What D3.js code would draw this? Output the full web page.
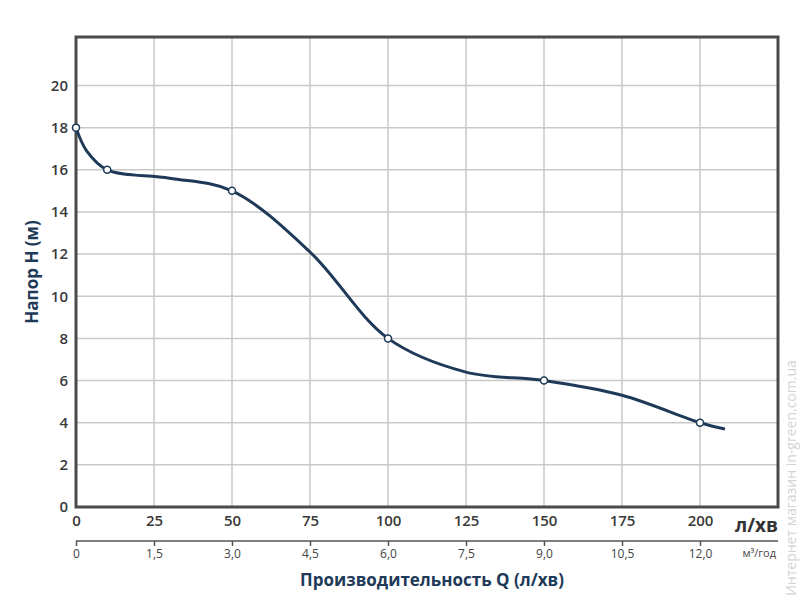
<!DOCTYPE html>
<html>
<head>
<meta charset="utf-8">
<script src="https://cdn.jsdelivr.net/npm/d3@7"></script>
<style>
  body { margin: 0; background: #fff; }
  svg text { font-family: "Open Sans", "Noto Sans", sans-serif; }
</style>
</head>
<body>
<div id="canvas"></div>
<script>
"use strict"

/* Data: flow (l/min) and head (m) */
let pointQ = [0, 10, 50, 100, 150, 200];
let pointH = [18, 16, 15, 8, 6, 4];

// points along the drawn curve
let curveQ = [0, 3.4, 10, 30, 50, 75, 100, 125, 150, 175, 200, 208];
let curveH = [18, 16.9, 16, 15.6, 15, 12.1, 8, 6.4, 6, 5.3, 4, 3.7];

let xTicks = [0, 25, 50, 75, 100, 125, 150, 175, 200];
let m3Ticks = [0, 1.5, 3.0, 4.5, 6.0, 7.5, 9.0, 10.5, 12.0];
let yTicks = [0, 2, 4, 6, 8, 10, 12, 14, 16, 18, 20];

/* Drawing config */
let svgWidth = 800;
let svgHeight = 600;
let plotLeft = 76, plotRight = 778, plotTop = 37, plotBottom = 507;
let navy = "#1e3a58";

let svg = d3.select("#canvas")
    .append("svg")
    .attr("width", svgWidth)
    .attr("height", svgHeight);

let xScale = d3.scaleLinear().domain([0, 225]).range([plotLeft, plotRight]);
let m3Scale = d3.scaleLinear().domain([0, 13.5]).range([plotLeft, plotRight]);
let yScale = d3.scaleLinear().domain([0, 22.3]).range([plotBottom, plotTop]);

/* grid */
svg.append("g")
    .selectAll("line")
    .data(xTicks.slice(1))
    .join("line")
    .attr("x1", d => xScale(d)).attr("x2", d => xScale(d))
    .attr("y1", plotTop).attr("y2", plotBottom)
    .attr("stroke", "#c9c9c9").attr("stroke-width", 1.5);

svg.append("g")
    .selectAll("line")
    .data(yTicks.slice(1))
    .join("line")
    .attr("x1", plotLeft).attr("x2", plotRight)
    .attr("y1", d => yScale(d)).attr("y2", d => yScale(d))
    .attr("stroke", "#c9c9c9").attr("stroke-width", 1.5);

/* frame */
svg.append("rect")
    .attr("x", plotLeft).attr("y", plotTop)
    .attr("width", plotRight - plotLeft).attr("height", plotBottom - plotTop)
    .attr("fill", "none")
    .attr("stroke", "#4a4a4a")
    .attr("stroke-width", 3);

/* y axis labels */
let yAxis = svg.append("g")
    .attr("transform", "translate(" + plotLeft + ",0)")
    .call(d3.axisLeft(yScale).tickValues(yTicks).tickSize(0).tickPadding(8));
yAxis.select(".domain").remove();
yAxis.selectAll("text")
    .attr("font-size", 15)
    .attr("font-weight", 600)
    .attr("fill", "#3a3a3a");

/* x axis labels (l/min) */
let xAxis = svg.append("g")
    .attr("transform", "translate(0," + plotBottom + ")")
    .call(d3.axisBottom(xScale).tickValues(xTicks).tickSize(0).tickPadding(8));
xAxis.select(".domain").remove();
xAxis.selectAll("text")
    .attr("font-size", 15)
    .attr("font-weight", 600)
    .attr("fill", "#3a3a3a");

svg.append("text")
    .attr("x", plotRight)
    .attr("y", 532)
    .attr("text-anchor", "end")
    .attr("font-size", 19)
    .attr("font-weight", 700)
    .attr("fill", "#333")
    .text("л/хв");

/* second axis (m3/h) */
let m3Axis = svg.append("g")
    .attr("transform", "translate(0,541)")
    .call(d3.axisBottom(m3Scale)
        .tickValues(m3Ticks)
        .tickSize(5)
        .tickPadding(3)
        .tickFormat(d => d === 0 ? "0" : d.toFixed(1).replace(".", ",")));
m3Axis.select(".domain")
    .attr("d", "M" + plotLeft + ",0H" + plotRight)
    .attr("stroke", "#555")
    .attr("stroke-width", 1.5);
m3Axis.selectAll(".tick line").attr("stroke", "#555").attr("stroke-width", 1.5);
m3Axis.selectAll("text")
    .attr("font-family", "'Liberation Sans Narrow', 'DejaVu Sans Condensed', sans-serif")
    .attr("font-size", 12)
    .attr("fill", "#444");

svg.append("text")
    .attr("x", plotRight - 2)
    .attr("y", 557)
    .attr("text-anchor", "end")
    .attr("font-family", "'Liberation Sans Narrow', 'DejaVu Sans Condensed', sans-serif")
    .attr("font-size", 11)
    .attr("fill", "#444")
    .text("м³/год");

/* curve */
let line = d3.line()
    .x((d, i) => xScale(curveQ[i]))
    .y(d => yScale(d))
    .curve(d3.curveCatmullRom.alpha(0.5));

svg.append("path")
    .datum(curveH)
    .attr("d", line)
    .attr("fill", "none")
    .attr("stroke", navy)
    .attr("stroke-width", 3);

svg.append("g")
    .selectAll("circle")
    .data(pointH)
    .join("circle")
    .attr("cx", (d, i) => xScale(pointQ[i]))
    .attr("cy", d => yScale(d))
    .attr("r", 3.5)
    .attr("fill", "#fff")
    .attr("stroke", navy)
    .attr("stroke-width", 1.5);

/* titles */
svg.append("text")
    .attr("x", 432)
    .attr("y", 586)
    .attr("text-anchor", "middle")
    .attr("font-size", 17)
    .attr("font-weight", 700)
    .attr("fill", navy)
    .text("Производительность Q (л/хв)");

svg.append("text")
    .attr("transform", "translate(38,272) rotate(-90)")
    .attr("text-anchor", "middle")
    .attr("font-size", 17)
    .attr("font-weight", 700)
    .attr("fill", navy)
    .text("Напор Н (м)");

/* watermark */
svg.append("text")
    .attr("transform", "translate(796,478) rotate(-90)")
    .attr("text-anchor", "middle")
    .attr("font-size", 14)
    .attr("fill", "#d4d4d4")
    .text("Интернет магазин  in-green.com.ua");
</script>
</body>
</html>
